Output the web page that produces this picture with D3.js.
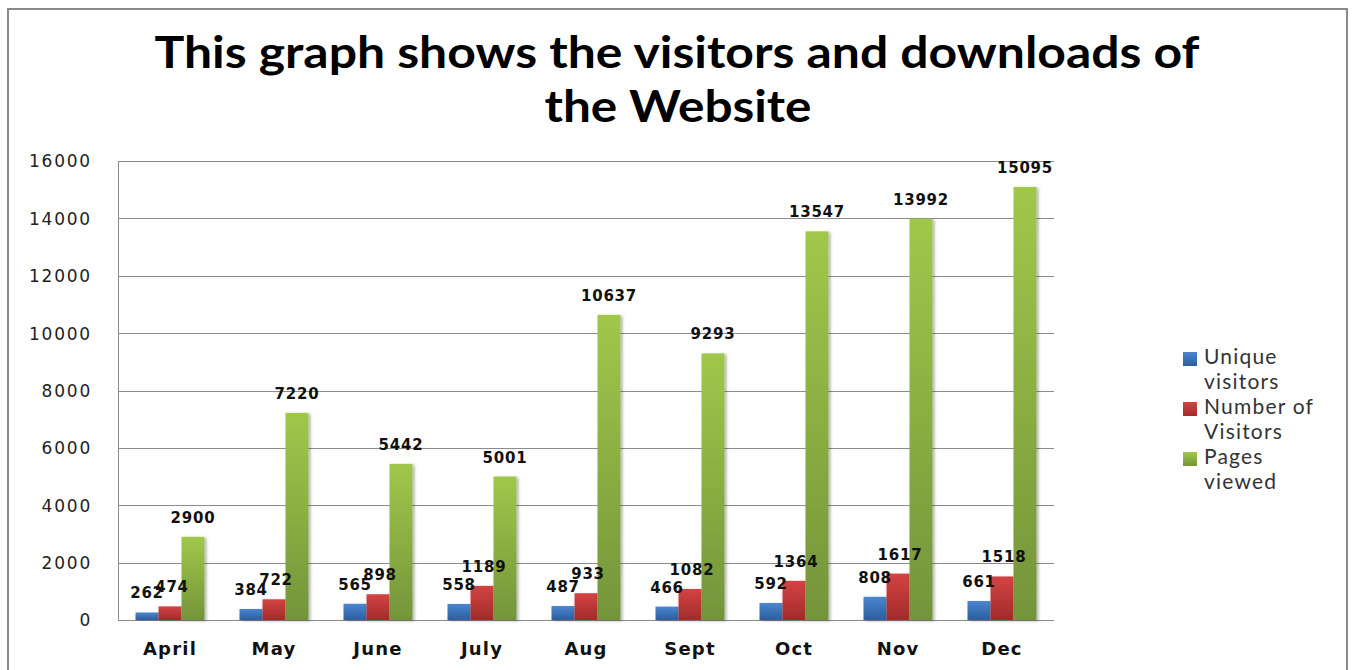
<!DOCTYPE html>
<html><head><meta charset="utf-8">
<script src="https://cdn.jsdelivr.net/npm/d3@7"></script>
<style>body{margin:0;background:#fff;} svg{display:block;}</style>
</head><body>
<svg id="chart" width="1352" height="670"></svg>
<script>
const months = ["April","May","June","July","Aug","Sept","Oct","Nov","Dec"];
const uniqueVisitors = [262,384,565,558,487,466,592,808,661];
const numberOfVisitors = [474,722,898,1189,933,1082,1364,1617,1518];
const pagesViewed = [2900,7220,5442,5001,10637,9293,13547,13992,15095];
const seriesNames = [["Unique","visitors"],["Number of","Visitors"],["Pages","viewed"]];
const yTicks = [0,2000,4000,6000,8000,10000,12000,14000,16000];
const titleLines = ["This graph shows the visitors and downloads of","the Website"];

const series = [uniqueVisitors, numberOfVisitors, pagesViewed];
const colors = [["#4a86d0","#2c5d9e"],["#d44342","#a22b2a"],["#9fc84a","#74943a"]];

const svg = d3.select("#chart");
const defs = svg.append("defs");
colors.forEach((c,i)=>{
  const g = defs.append("linearGradient").attr("id","g"+i).attr("x1",0).attr("y1",0).attr("x2",0).attr("y2",1);
  g.append("stop").attr("offset","0%").attr("stop-color",c[0]);
  g.append("stop").attr("offset","100%").attr("stop-color",c[1]);
});
const f = defs.append("filter").attr("id","sh").attr("x","-20%").attr("y","-5%").attr("width","150%").attr("height","115%");
f.append("feDropShadow").attr("dx",2).attr("dy",1).attr("stdDeviation",1.5).attr("flood-color","#000").attr("flood-opacity",0.3);

// outer border
svg.append("rect").attr("x",8).attr("y",9).attr("width",1339).attr("height",700)
  .attr("fill","none").attr("stroke","#8a8a8a").attr("stroke-width",2);

// title
svg.append("text").attr("x",677).attr("y",68).attr("text-anchor","middle")
  .attr("font-family","Lato, 'Open Sans', sans-serif").attr("font-weight","bold").attr("font-size",44)
  .attr("textLength",1045).attr("lengthAdjust","spacingAndGlyphs").text(titleLines[0]);
svg.append("text").attr("x",678).attr("y",122).attr("text-anchor","middle")
  .attr("font-family","Lato, 'Open Sans', sans-serif").attr("font-weight","bold").attr("font-size",44)
  .attr("textLength",267).attr("lengthAdjust","spacingAndGlyphs").text(titleLines[1]);

const pL=118, pR=1054, pT=161, pB=620;
const x = d3.scaleBand().domain(months).range([pL,pR]).padding(0);
const y = d3.scaleLinear().domain([0,16000]).range([pB,pT]);
const barW = 23;

// gridlines
svg.append("g").selectAll("line").data(yTicks).join("line")
  .attr("x1",pL).attr("x2",pR).attr("y1",d=>Math.round(y(d))+0.5).attr("y2",d=>Math.round(y(d))+0.5)
  .attr("stroke","#8c8c8c").attr("stroke-width",1);
// left axis line
svg.append("line").attr("x1",pL+0.5).attr("x2",pL+0.5).attr("y1",pT).attr("y2",pB+0.5)
  .attr("stroke","#8c8c8c");

// y axis labels
const yAxis = d3.axisLeft(y).tickValues(yTicks).tickSize(0).tickPadding(26).tickFormat(d3.format("d"));
const ya = svg.append("g").attr("transform",`translate(${pL},0)`).call(yAxis);
ya.select(".domain").remove();
ya.selectAll("text").attr("font-family","'DejaVu Sans', Verdana, sans-serif").attr("font-size",17)
  .attr("letter-spacing",1.8).attr("fill","#222").attr("dy","0.35em");

// x axis labels
const xAxis = d3.axisBottom(x).tickSize(0).tickPadding(22);
const xa = svg.append("g").attr("transform",`translate(0,${pB})`).call(xAxis);
xa.select(".domain").remove();
xa.selectAll("text").attr("font-family","'DejaVu Sans', Verdana, sans-serif").attr("font-size",18)
  .attr("font-weight","bold").attr("letter-spacing",1.2).attr("fill","#111");

// bars
series.forEach((vals,si)=>{
  const g = svg.append("g");
  g.selectAll("rect").data(vals).join("rect")
    .attr("x",(d,i)=>x(months[i]) + x.bandwidth()/2 - 1.5*barW + si*barW)
    .attr("y",d=>y(d)).attr("width",barW).attr("height",d=>pB-y(d))
    .attr("fill",`url(#g${si})`).attr("filter","url(#sh)");
});
series.forEach((vals,si)=>{
  svg.append("g").selectAll("text").data(vals).join("text")
    .attr("x",(d,i)=>x(months[i]) + x.bandwidth()/2 - 1.5*barW + si*barW + barW/2 + (si===1?2:0))
    .attr("y",d=>y(d)-14).attr("text-anchor","middle")
    .attr("font-family","'DejaVu Sans', Verdana, sans-serif").attr("font-weight","bold").attr("font-size",15)
    .attr("letter-spacing",0.8).attr("fill","#111").text(d=>d);
});

// legend
const lg = svg.append("g");
seriesNames.forEach((nm,i)=>{
  const y0 = 352 + i*50;
  lg.append("rect").attr("x",1183).attr("y",y0).attr("width",14).attr("height",14).attr("fill",`url(#g${i})`);
  nm.forEach((t,j)=>{
    lg.append("text").attr("x",1204).attr("y",y0+12+j*25)
      .attr("font-family","Lato, 'Open Sans', sans-serif").attr("font-size",21).attr("letter-spacing",1.2)
      .attr("fill","#333").text(t);
  });
});
</script>
</body></html>
